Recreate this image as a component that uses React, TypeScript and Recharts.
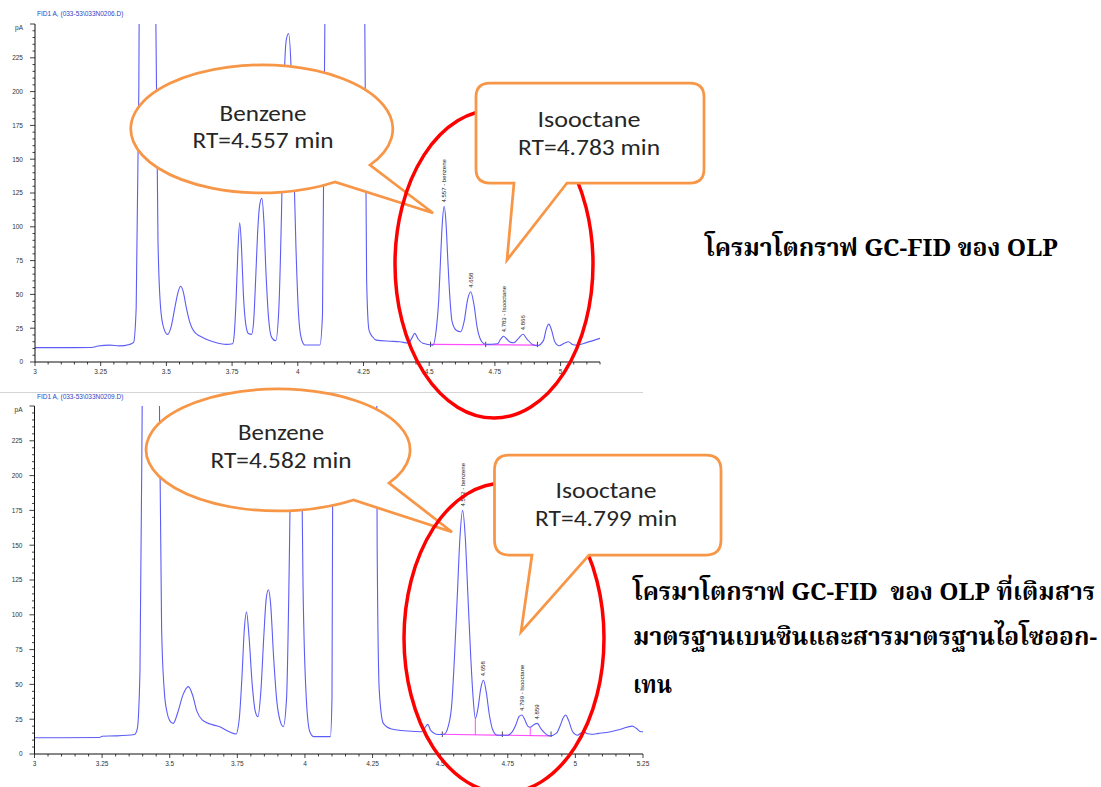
import React from "react";
import { LineChart, Line, XAxis, YAxis, ReferenceLine, ReferenceDot } from "recharts";

// FID1 A, 0206.D : OLP only
const topTimes = [
  3.0, 3.1, 3.215, 3.24, 3.285, 3.32, 3.36, 3.375, 3.385, 3.395, 3.405, 3.43, 3.452, 3.46, 3.468, 3.478, 3.49,
  3.504, 3.518, 3.532, 3.545, 3.554, 3.564, 3.576, 3.588, 3.598, 3.61, 3.627, 3.65, 3.678, 3.729, 3.752, 3.758,
  3.765, 3.772, 3.779, 3.786, 3.793, 3.802, 3.812, 3.824, 3.832, 3.839, 3.847, 3.855, 3.863, 3.871, 3.879,
  3.889, 3.901, 3.916, 3.928, 3.938, 3.947, 3.956, 3.965, 3.974, 3.983, 3.993, 4.003, 4.014, 4.027, 4.084,
  4.094, 4.103, 4.112, 4.18, 4.245, 4.255, 4.262, 4.271, 4.285, 4.299, 4.35, 4.388, 4.42, 4.435, 4.445, 4.458,
  4.476, 4.514, 4.528, 4.536, 4.543, 4.55, 4.557, 4.564, 4.571, 4.579, 4.587, 4.603, 4.62, 4.633, 4.646, 4.658,
  4.67, 4.683, 4.7, 4.715, 4.76, 4.772, 4.783, 4.795, 4.81, 4.822, 4.84, 4.857, 4.872, 4.893, 4.912, 4.935,
  4.945, 4.955, 4.965, 4.978, 4.995, 5.015, 5.03, 5.045, 5.06, 5.1, 5.15,
];
const topSignal = [
  10.6, 10.6, 10.7, 11.8, 12.5, 11.9, 13, 14.5, 40, 200, 600, 900, 600, 250, 90, 40, 25,
  20.4, 26, 40, 52, 56, 52, 40, 30, 25, 21.5, 19.2, 17, 15, 13, 13.5, 20,
  45, 82, 103, 84, 50, 28, 21, 20.4, 30, 58, 95, 116, 121, 104, 66,
  32, 18, 15.7, 40, 110, 200, 238, 243, 220, 160, 85, 35, 17, 12.6, 12.6,
  35, 250, 800, 2000, 800, 250, 60, 23.6, 18.5, 16.2, 15.4, 15, 14, 18, 21.2, 17,
  13.8, 12.5, 26, 45, 75, 103, 115, 103, 75, 47, 30, 23.5, 22.4, 30, 46, 52,
  43, 25, 15, 13, 13.5, 17, 19, 17, 14.5, 14.2, 17.5, 20.5, 17, 13, 12, 16,
  24, 28, 24, 15, 12, 14, 15, 13, 12.5, 14.5, 17.5,
];

// FID1 A, 0209.D : OLP spiked with benzene + isooctane standards
const bottomTimes = [
  3.0, 3.1, 3.24, 3.25, 3.3, 3.37, 3.38, 3.39, 3.4, 3.43, 3.46, 3.47, 3.48, 3.49, 3.5, 3.513, 3.53, 3.55,
  3.569, 3.585, 3.6, 3.62, 3.65, 3.683, 3.72, 3.745, 3.757, 3.767, 3.776, 3.784, 3.793, 3.805, 3.816, 3.826,
  3.837, 3.848, 3.857, 3.865, 3.873, 3.884, 3.896, 3.908, 3.92, 3.932, 3.943, 3.953, 3.968, 3.983, 3.993,
  4.005, 4.018, 4.033, 4.094, 4.1, 4.104, 4.12, 4.19, 4.255, 4.267, 4.275, 4.29, 4.32, 4.38, 4.43, 4.444,
  4.454, 4.465, 4.493, 4.515, 4.53, 4.543, 4.553, 4.563, 4.573, 4.583, 4.593, 4.603, 4.613, 4.622, 4.63,
  4.64, 4.65, 4.66, 4.67, 4.682, 4.695, 4.711, 4.75, 4.765, 4.78, 4.792, 4.802, 4.812, 4.824, 4.833, 4.846,
  4.859, 4.873, 4.89, 4.906, 4.93, 4.945, 4.955, 4.964, 4.975, 4.99, 5.008, 5.02, 5.03, 5.045, 5.06, 5.086,
  5.13, 5.17, 5.21, 5.225, 5.242, 5.25,
];
const bottomSignal = [
  11.7, 11.7, 11.8, 12.8, 13, 14, 18, 60, 300, 1000, 300, 90, 45, 30, 24, 22, 30, 43,
  48.4, 42, 31, 24.5, 21.5, 19.7, 16, 14.4, 25, 55, 90, 102, 85, 50, 31, 26.8,
  45, 85, 112, 118, 108, 70, 38, 24, 19.7, 40, 150, 300, 400, 300, 120,
  40, 16, 12.5, 12.5, 40, 300, 1200, 2500, 1000, 150, 45, 22, 18, 16.5, 16, 19,
  21.3, 17, 14, 14.2, 20, 36, 70, 112, 155, 175, 155, 112, 70, 40, 25.6,
  33, 47, 53, 45, 28, 17, 13.5, 13.5, 15.5, 21, 27, 28, 25, 20, 19.2, 21,
  22, 18, 14.5, 13, 15, 21, 26, 28, 24, 16, 13.5, 15, 16, 14.5, 14.2, 14.8,
  16, 18, 20, 18.5, 16, 16,
];

// peak annotations printed by the integrator
const topPeakTimes = [4.557, 4.658, 4.783, 4.857];
const topPeakHeights = [115, 52, 19, 20.5];
const topPeakNames = ["4.557 - benzene", "4.658", "4.783 - Isooctane", "4.866"];
const bottomPeakTimes = [4.583, 4.66, 4.802, 4.859];
const bottomPeakHeights = [175, 53, 28, 22];
const bottomPeakNames = ["4.582 - benzene", "4.658", "4.799 - Isooctane", "4.859"];
const topMarks = [4.505, 4.715, 4.912];
const bottomMarks = [4.508, 4.73, 4.91];

const topXMajor = [3, 3.25, 3.5, 3.75, 4, 4.25, 4.5, 4.75, 5];
const bottomXMajor = [3, 3.25, 3.5, 3.75, 4, 4.25, 4.5, 4.75, 5, 5.25];
const yMajor = [0, 25, 50, 75, 100, 125, 150, 175, 200, 225, 250];

const axisFont = "'Liberation Sans', Arial, sans-serif";
const calloutFont = "Carlito, Calibri, 'Open Sans', sans-serif";
const thaiFont = "'Angsana New', 'TH Sarabun New', 'Noto Serif Thai', 'Noto Sans Thai', Kinnari, Garuda, Loma, serif";
const trace = "#5c5cf6";
const orange = "#f79646";

const steps = (from: number, to: number, step: number) => {
  const out: number[] = [];
  for (let v = from; v <= to + 1e-9; v += step) out.push(Math.round(v * 1000) / 1000);
  return out;
};

const isMajor = (majors: number[], v: number) => majors.some((m) => Math.abs(m - v) < 1e-6);

const xTick = (majors: number[]) => (props: any) => {
  const { x, y, payload } = props;
  const v = payload.value as number;
  const major = isMajor(majors, v);
  return (
    <g>
      <line x1={x} x2={x} y1={y} y2={y + (major ? 4 : 2.5)} stroke="#111" strokeWidth={0.8} />
      {major && (
        <text x={x} y={y + 12} textAnchor="middle" fontSize={6.5} fill="#333" fontFamily={axisFont}>
          {String(v)}
        </text>
      )}
    </g>
  );
};

const yTick = (props: any) => {
  const { x, y, payload } = props;
  const v = payload.value as number;
  const major = isMajor(yMajor, v);
  return (
    <g>
      <line x1={x - (major ? 5 : 2.5)} x2={x} y1={y} y2={y} stroke="#111" strokeWidth={0.8} />
      {major && (
        <text x={x - 12} y={v === 250 ? y + 6 : y + 2.3} textAnchor="end" fontSize={6.5} fill="#333" fontFamily={axisFont}>
          {v === 250 ? "pA" : String(v)}
        </text>
      )}
    </g>
  );
};

const peakLabel = (text: string) => (props: any) => {
  const { cx, cy } = props;
  const x = cx + 2;
  const y = cy - 4;
  return (
    <text x={x} y={y} transform={`rotate(-90 ${x} ${y})`} fontSize={6} fill="#222" fontFamily={axisFont}>
      {text}
    </text>
  );
};

interface TraceProps {
  times: number[];
  signal: number[];
  width: number;
  height: number;
  margin: { top: number; right: number; bottom: number; left: number };
  xMax: number;
  xMajor: number[];
  peakTimes: number[];
  peakHeights: number[];
  peakNames: string[];
  baseline: [number, number, number, number];
  splits: { t: number; v: number }[];
  marks: number[];
}

function Chromatogram(p: TraceProps) {
  const data = p.times.map((t, i) => ({ t, v: p.signal[i] }));
  return (
    <LineChart width={p.width} height={p.height} data={data} margin={p.margin}>
      <XAxis
        type="number" dataKey="t" domain={[3, p.xMax]} allowDataOverflow
        ticks={steps(3, p.xMax, 0.05)} interval={0} tickSize={0} tickMargin={0} tickLine={false}
        tick={xTick(p.xMajor)} axisLine={{ stroke: "#111" }} height={20}
      />
      <YAxis
        type="number" domain={[0, 250]} allowDataOverflow
        ticks={steps(0, 250, 5)} interval={0} tickSize={0} tickMargin={0} tickLine={false}
        tick={yTick} axisLine={{ stroke: "#111" }} width={30}
      />
      <ReferenceLine
        segment={[{ x: p.baseline[0], y: p.baseline[1] }, { x: p.baseline[2], y: p.baseline[3] }]}
        stroke="#ff4dff" strokeWidth={1.2}
      />
      {p.splits.map((s) => (
        <ReferenceLine key={s.t} segment={[{ x: s.t, y: p.baseline[1] - 0.5 }, { x: s.t, y: s.v }]} stroke="#ff4dff" strokeWidth={1} />
      ))}
      {p.marks.map((t) => (
        <ReferenceLine key={`m${t}`} segment={[{ x: t, y: p.baseline[1] - 2 }, { x: t, y: p.baseline[1] + 2 }]} stroke="#222" strokeWidth={0.8} />
      ))}
      <Line type="monotone" dataKey="v" stroke={trace} strokeWidth={1.1} dot={false} isAnimationActive={false} />
      {p.peakTimes.map((t, i) => (
        <ReferenceDot key={t} x={t} y={p.peakHeights[i]} r={0} shape={peakLabel(p.peakNames[i])} />
      ))}
    </LineChart>
  );
}

function EllipseCallout({ d, lines, cx, y1, y2, w1, w2 }: { d: string; lines: string[]; cx: number; y1: number; y2: number; w1: number; w2: number }) {
  return (
    <g>
      <path d={d} fill="#fff" stroke={orange} strokeWidth={2.75} strokeLinejoin="miter" />
      <text x={cx} y={y1} textAnchor="middle" fontSize={22} fill="#262626" fontFamily={calloutFont} textLength={w1} lengthAdjust="spacingAndGlyphs">{lines[0]}</text>
      <text x={cx} y={y2} textAnchor="middle" fontSize={22} fill="#262626" fontFamily={calloutFont} textLength={w2} lengthAdjust="spacingAndGlyphs">{lines[1]}</text>
    </g>
  );
}

function ThaiLine({ x, y, w, text }: { x: number; y: number; w: number; text: string }) {
  return (
    <text x={x} y={y} fontSize={24} fontWeight="bold" fill="#000" fontFamily={thaiFont}
      textLength={w} lengthAdjust="spacingAndGlyphs" style={{ whiteSpace: "pre" }}>
      {text}
    </text>
  );
}

export default function App() {
  return (
    <div style={{ position: "absolute", left: 0, top: 0, width: 1101, height: 787, background: "#fff", overflow: "hidden" }}>
      <div style={{ position: "absolute", left: 0, top: 0 }}>
        <Chromatogram
          times={topTimes} signal={topSignal} width={640} height={385}
          margin={{ top: 24, right: 40, bottom: 3, left: 5 }} xMax={5.15} xMajor={topXMajor}
          peakTimes={topPeakTimes} peakHeights={topPeakHeights} peakNames={topPeakNames}
          baseline={[4.505, 13, 4.912, 12.5]} splits={[]} marks={topMarks}
        />
      </div>
      <div style={{ position: "absolute", left: 0, top: 390 }}>
        <Chromatogram
          times={bottomTimes} signal={bottomSignal} width={660} height={390}
          margin={{ top: 16, right: 17, bottom: 6, left: 4.5 }} xMax={5.25} xMajor={bottomXMajor}
          peakTimes={bottomPeakTimes} peakHeights={bottomPeakHeights} peakNames={bottomPeakNames}
          baseline={[4.5, 14.2, 4.906, 13]} splits={[{ t: 4.63, v: 25.6 }, { t: 4.833, v: 19.2 }]} marks={bottomMarks}
        />
      </div>
      <svg width={1101} height={787} style={{ position: "absolute", left: 0, top: 0, pointerEvents: "none" }}>
        <text x={37} y={16} fontSize={6.5} fill="#2b44c8" fontFamily={axisFont}>{"FID1 A,  (033-53\\033N0206.D)"}</text>
        <line x1={0} x2={643} y1={392.5} y2={392.5} stroke="#d4d4d4" strokeWidth={1} />
        <text x={37} y={399} fontSize={6.5} fill="#2b44c8" fontFamily={axisFont}>{"FID1 A,  (033-53\\033N0209.D)"}</text>

        <EllipseCallout
          d="M 370 165 A 131 64 0 1 0 335 182 L 433 213 Z"
          lines={["Benzene", "RT=4.557 min"]} cx={263} y1={121} y2={148} w1={87} w2={141}
        />
        <EllipseCallout
          d="M 389 483 A 132 61 0 1 0 353.5 500 L 452 532 Z"
          lines={["Benzene", "RT=4.582 min"]} cx={281} y1={440} y2={468} w1={86} w2={141}
        />

        <ellipse cx={494} cy={264} rx={99} ry={154} fill="none" stroke="#ff0000" strokeWidth={3.5} />
        <ellipse cx={504} cy={638} rx={100} ry={155} fill="none" stroke="#ff0000" strokeWidth={3.5} />

        <path
          d="M 490 83 H 690 Q 704 83 704 97 V 169 Q 704 183 690 183 H 567 L 507 260 L 514 183 H 490 Q 476 183 476 169 V 97 Q 476 83 490 83 Z"
          fill="#fff" stroke={orange} strokeWidth={2.75}
        />
        <text x={589} y={127} textAnchor="middle" fontSize={22} fill="#262626" fontFamily={calloutFont} textLength={103} lengthAdjust="spacingAndGlyphs">Isooctane</text>
        <text x={589} y={155} textAnchor="middle" fontSize={22} fill="#262626" fontFamily={calloutFont} textLength={142} lengthAdjust="spacingAndGlyphs">RT=4.783 min</text>

        <path
          d="M 509 455 H 706 Q 721 455 721 470 V 540 Q 721 555 706 555 H 589 L 521 632 L 532 555 H 509 Q 494.5 555 494.5 540 V 470 Q 494.5 455 509 455 Z"
          fill="#fff" stroke={orange} strokeWidth={2.75}
        />
        <text x={606} y={498} textAnchor="middle" fontSize={22} fill="#262626" fontFamily={calloutFont} textLength={101} lengthAdjust="spacingAndGlyphs">Isooctane</text>
        <text x={606} y={526} textAnchor="middle" fontSize={22} fill="#262626" fontFamily={calloutFont} textLength={142} lengthAdjust="spacingAndGlyphs">RT=4.799 min</text>

        <ThaiLine x={705} y={256} w={353} text="โครมาโตกราฟ GC-FID ของ OLP" />
        <ThaiLine x={633} y={600} w={462} text="โครมาโตกราฟ GC-FID  ของ OLP ที่เติมสาร" />
        <ThaiLine x={633} y={645} w={464} text="มาตรฐานเบนซินและสารมาตรฐานไอโซออก-" />
        <ThaiLine x={633} y={693} w={39} text="เทน" />
      </svg>
    </div>
  );
}
